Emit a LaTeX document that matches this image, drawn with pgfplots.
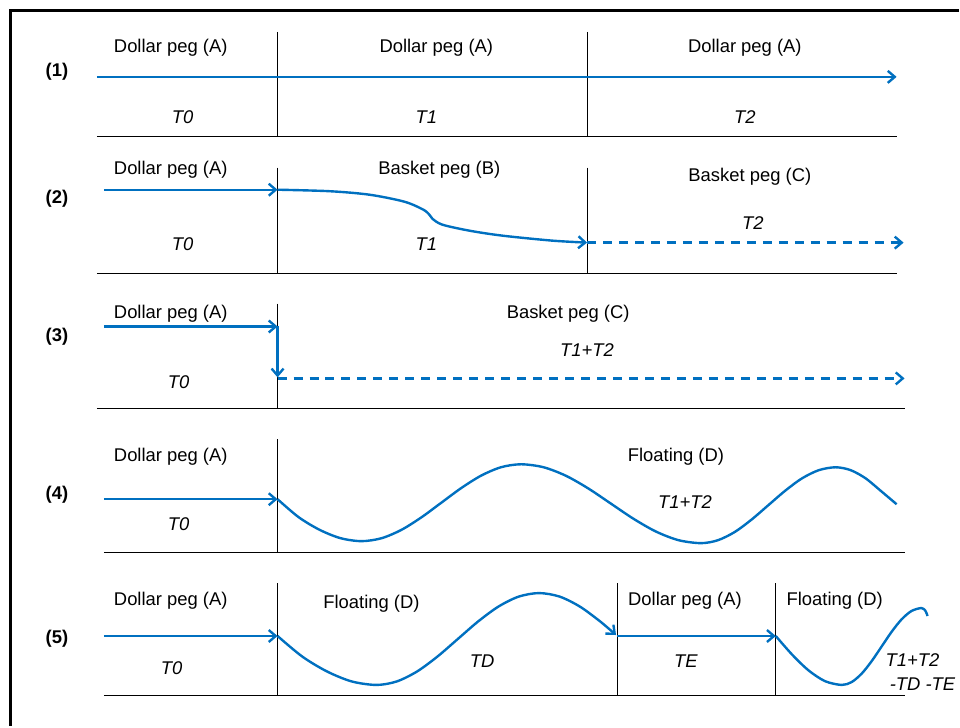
\documentclass[border=0pt]{standalone}
\usepackage{pgfplots}
\pgfplotsset{compat=1.18}
\usepackage{fontspec}
\setmainfont{Liberation Sans}
\usetikzlibrary{arrows.meta}
\definecolor{pegblue}{HTML}{0070C0}

\begin{document}
\begin{tikzpicture}
\tikzset{
  lab/.style={font=\fontsize{18.5}{21}\selectfont, inner sep=0pt, anchor=center},
  per/.style={font=\fontsize{18.5}{21}\selectfont\itshape, inner sep=0pt, anchor=center},
  row/.style={font=\fontsize{18.5}{21}\selectfont\bfseries, inner sep=0pt, anchor=center},
}
\begin{axis}[
  x=1bp, y=1bp,
  xmin=0, xmax=960, ymin=0, ymax=727,
  y dir=reverse,
  hide axis, clip=false, no markers,
  blueline/.style={pegblue, line width=2.4bp, line join=round},
  tip/.style={-{Straight Barb[length=7bp,width=12bp]}},
  rule/.style={black, line width=0.9bp},
  dashes/.style={dash pattern=on 9bp off 7bp},
]
% page corners and frame
\addplot[draw=none] coordinates {(0,0) (960,727)};
\addplot[black, line width=3bp, line join=miter] coordinates {(10.5,727) (10.5,11) (960,11)};

% ---------- row (1)
\addplot[rule] coordinates {(97,137) (898,137)};
\addplot[rule] coordinates {(278,32) (278,137)};
\addplot[rule] coordinates {(588,32) (588,137)};
\addplot[blueline, tip] coordinates {(97,77) (898,77)};
\node[row] at (axis cs:57,72) {(1)};
\node[lab] at (axis cs:171,48) {Dollar peg (A)};
\node[lab] at (axis cs:437,48) {Dollar peg (A)};
\node[lab] at (axis cs:746,48) {Dollar peg (A)};
\node[per] at (axis cs:183,117) {T0};
\node[per] at (axis cs:427,117) {T1};
\node[per] at (axis cs:746,117) {T2};

% ---------- row (2)
\addplot[rule] coordinates {(97,274) (898,274)};
\addplot[rule] coordinates {(278,168) (278,274)};
\addplot[rule] coordinates {(588,168) (588,274)};
\addplot[blueline, tip] coordinates {(104,190) (278,190)};
\addplot[blueline, tip, smooth] coordinates {
  (278,190) (330,191.5) (370,195) (405,202) (424,210) (430,215) (433,219)
  (443,225) (470,231) (503,236) (553,241) (588,243)};
\addplot[blueline, tip, dashes] coordinates {(588,243) (905,243)};
\node[row] at (axis cs:57,199) {(2)};
\node[lab] at (axis cs:171,170) {Dollar peg (A)};
\node[lab] at (axis cs:440,170) {Basket peg (B)};
\node[lab] at (axis cs:751,177) {Basket peg (C)};
\node[per] at (axis cs:183,245) {T0};
\node[per] at (axis cs:427,245) {T1};
\node[per] at (axis cs:754,223) {T2};

% ---------- row (3)
\addplot[rule] coordinates {(97,409) (906,409)};
\addplot[rule] coordinates {(278,304) (278,409)};
\addplot[blueline, tip] coordinates {(104,327) (278,327)};
\addplot[blueline, tip] coordinates {(278,327) (278,378)};
\addplot[blueline, tip, dashes] coordinates {(278,379) (906,379)};
\node[row] at (axis cs:57,337) {(3)};
\node[lab] at (axis cs:171,314) {Dollar peg (A)};
\node[lab] at (axis cs:569,314) {Basket peg (C)};
\node[per] at (axis cs:588,351) {T1+T2};
\node[per] at (axis cs:179,383) {T0};

% ---------- row (4)
\addplot[rule] coordinates {(104,553) (906,553)};
\addplot[rule] coordinates {(278,440) (278,553)};
\addplot[blueline, tip] coordinates {(104,500) (278,500)};
\addplot[blueline, smooth] coordinates {
  (278,500) (299,517.9) (320,530.6) (341,539) (362,542)
  (382,539.1) (402,530.7) (422,518.2) (442,503.5) (462,488.8) (482,476.3) (502,467.9) (522,465)
  (544.5,468) (567,476.6) (589.5,489.4) (612,504.5) (634.5,519.6) (657,532.4) (679.5,541) (702,544)
  (718.9,541.1) (735.75,532.9) (752.6,520.5) (769.5,506) (786.4,491.5) (803.25,479.1) (820.1,470.9) (837,468)
  (852,470.9) (867,479.1) (882,491.5) (898,505)};
\node[row] at (axis cs:57,496) {(4)};
\node[lab] at (axis cs:171,457) {Dollar peg (A)};
\node[lab] at (axis cs:677,457) {Floating (D)};
\node[per] at (axis cs:686,503) {T1+T2};
\node[per] at (axis cs:179,525) {T0};

% ---------- row (5)
\addplot[rule] coordinates {(104,697) (906,697)};
\addplot[rule] coordinates {(278,584) (278,697)};
\addplot[rule] coordinates {(618,584) (618,697)};
\addplot[rule] coordinates {(777,584) (777,697)};
\addplot[blueline, tip] coordinates {(104,637) (278,637)};
\addplot[blueline, tip, smooth] coordinates {
  (278,637) (302.75,657.6) (327.5,672.5) (352.25,682.5) (377,686)
  (397.4,682.5) (417.75,672.5) (438.1,657.6) (458.5,640) (478.9,622.4) (499.25,607.5) (519.6,597.5) (540,594)
  (560.4,597.5) (580.75,607.5) (601.1,622.4) (617,636)};
\addplot[blueline, tip] coordinates {(618,637) (777,637)};
\addplot[blueline, smooth] coordinates {
  (777,637) (793.5,655.8) (810,671.6) (826.5,682.3) (843,686)
  (853,683.1) (863,674.7) (873,662.2) (883,647.5) (893,632.8) (903,620.3) (913,611.9) (923,609)
  (927,612) (929,617)};
\node[row] at (axis cs:57,640) {(5)};
\node[lab] at (axis cs:171,602) {Dollar peg (A)};
\node[lab] at (axis cs:372,605) {Floating (D)};
\node[lab] at (axis cs:686,602) {Dollar peg (A)};
\node[lab] at (axis cs:836,602) {Floating (D)};
\node[per] at (axis cs:172,669) {T0};
\node[per] at (axis cs:483,662) {TD};
\node[per] at (axis cs:687,662) {TE};
\node[per] at (axis cs:914,661) {T1+T2};
\node[per] at (axis cs:924,685) {-TD -TE};
\end{axis}
\end{tikzpicture}
\end{document}
